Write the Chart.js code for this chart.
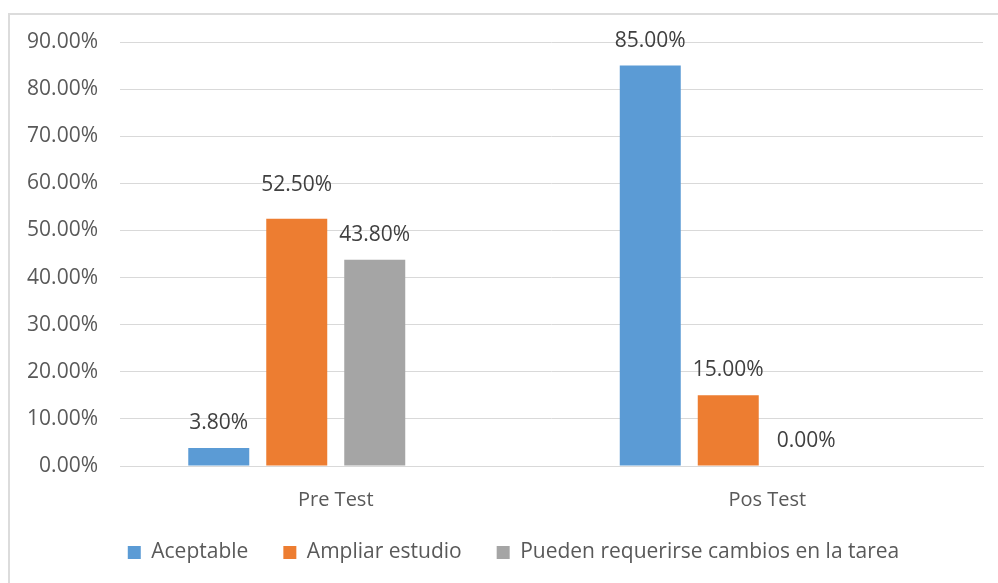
<!DOCTYPE html>
<html>
<head>
<meta charset="utf-8">
<script src="https://cdn.jsdelivr.net/npm/chart.js@4"></script>
<style>
  html, body { margin: 0; padding: 0; background: #ffffff; }
  #wrap { position: relative; width: 998px; height: 583px; overflow: hidden; }
  #frame { position: absolute; left: 8px; top: 13px; width: 1000px; height: 600px;
           border-left: 2px solid #dcdcdc; border-top: 2px solid #dcdcdc; box-sizing: border-box; }
  #chart { position: absolute; left: 0; top: 0; }
</style>
</head>
<body>
<div id="wrap">
  <div id="frame"></div>
  <canvas id="chart" width="998" height="583"></canvas>
</div>
<script>
// Results per evaluation stage (percent of cases)
const categories = ['Pre Test', 'Pos Test'];
const seriesNames = ['Aceptable', 'Ampliar estudio', 'Pueden requerirse cambios en la tarea'];
const aceptable = [3.8, 85.0];
const ampliarEstudio = [52.5, 15.0];
const puedenRequerirse = [43.8, 0.0];
// The workbook's fourth series holds no values but still reserves a slot in each group
const serieVacia = [null, null];
const yTickValues = [0, 10, 20, 30, 40, 50, 60, 70, 80, 90];

const seriesColors = ['#5b9bd5', '#ed7d31', '#a5a5a5'];
const FONT = "'Open Sans', 'DejaVu Sans', sans-serif";

const fmtPct = v => v.toFixed(2) + '%';

// Extra lift (px) for labels that were moved up by hand: key = "dataset-index"
const labelLift = { '1-0': 9 };

// Value labels above each bar
const barValueLabels = {
  id: 'barValueLabels',
  afterDatasetsDraw(chart) {
    const ctx = chart.ctx;
    ctx.save();
    ctx.font = '21px ' + FONT;
    ctx.fillStyle = '#404040';
    ctx.textAlign = 'center';
    ctx.textBaseline = 'middle';
    chart.data.datasets.forEach((ds, di) => {
      const meta = chart.getDatasetMeta(di);
      meta.data.forEach((bar, i) => {
        const v = ds.data[i];
        if (v === null || v === undefined) return;
        const lift = labelLift[di + '-' + i] || 0;
        ctx.fillText(fmtPct(v), bar.x, bar.y - 25 - lift);
      });
    });
    ctx.restore();
  }
};

// Legend sits centred under the plot area, just below the category labels
const legendPlacement = {
  id: 'legendPlacement',
  afterLayout(chart) {
    const lg = chart.legend;
    const h = lg.height;
    lg.left = chart.chartArea.left - 76;
    lg.top = 507;
    lg.bottom = lg.top + h;
  }
};

const dataSets = [aceptable, ampliarEstudio, puedenRequerirse].map((values, k) => ({
  label: seriesNames[k],
  data: values,
  backgroundColor: seriesColors[k],
  borderWidth: 0
}));
dataSets.push({ label: '', data: serieVacia, backgroundColor: 'rgba(0,0,0,0)' });

new Chart(document.getElementById('chart'), {
  type: 'bar',
  data: { labels: categories, datasets: dataSets },
  options: {
    responsive: false,
    animation: false,
    devicePixelRatio: 1,
    layout: { padding: { left: 20, right: 15, top: 42, bottom: 7 } },
    datasets: { bar: { categoryPercentage: 0.723, barPercentage: 0.782 } },
    scales: {
      x: {
        grid: { display: false, drawTicks: false },
        border: { display: true, color: '#d9d9d9', width: 1 },
        ticks: { color: '#595959', font: { family: FONT, size: 20 }, padding: 22 },
        afterFit(scale) { scale.height = 44; }
      },
      y: {
        min: 0,
        max: 90,
        afterBuildTicks(scale) { scale.ticks = yTickValues.map(v => ({ value: v })); },
        grid: { color: '#d9d9d9', lineWidth: 1, drawTicks: false },
        border: { display: false },
        ticks: { color: '#595959', font: { family: FONT, size: 21 }, padding: 22,
                 callback: v => fmtPct(v) },
        afterFit(scale) { scale.width = 100; }
      }
    },
    plugins: {
      legend: {
        position: 'bottom',
        labels: {
          color: '#595959',
          font: { family: FONT, size: 21 },
          boxWidth: 13,
          boxHeight: 13,
          padding: 35,
          filter: item => item.text !== ''
        }
      },
      tooltip: { enabled: false }
    }
  },
  plugins: [barValueLabels, legendPlacement]
});
</script>
</body>
</html>
